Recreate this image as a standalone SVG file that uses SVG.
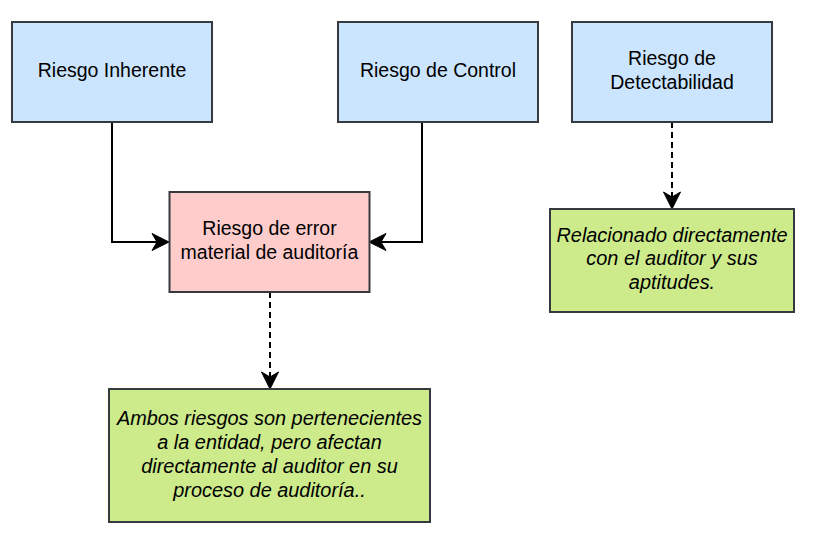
<svg xmlns="http://www.w3.org/2000/svg" width="814" height="536" viewBox="0 0 814 536">
<style>
.box{stroke:#36393d;stroke-width:2}
.blue{fill:#cce5ff}
.pink{fill:#ffcccc}
.green{fill:#cdeb8b}
.t{font-family:"Liberation Sans",Arial,sans-serif;font-size:19.5px;fill:#000;text-anchor:middle}
.i{font-style:italic;font-size:19.9px}
.c{fill:none;stroke:#000;stroke-width:2}
.d{stroke-dasharray:6 4}
</style>
<defs>
<marker id="arr" markerUnits="userSpaceOnUse" markerWidth="20" markerHeight="20" viewBox="0 0 20 20" refX="6" refY="9" orient="auto">
<path d="M18,9 L1,0.5 L6,9 L1,17.5 Z" fill="#000" stroke="#000" stroke-width="1"/>
</marker>
</defs>
<rect width="814" height="536" fill="#fff"/>
<g id="connectors">
<path class="c" d="M112,122 V242 H157" marker-end="url(#arr)"/>
<path class="c" d="M422,122 V242 H381" marker-end="url(#arr)"/>
<path class="c d" d="M270,292 V377" marker-end="url(#arr)"/>
<path class="c d" d="M672,122 V197" marker-end="url(#arr)"/>
</g>
<g id="inherente">
<rect class="box blue" x="12" y="22" width="200" height="100"/>
<text class="t" x="112" y="77">Riesgo Inherente</text>
</g>
<g id="control">
<rect class="box blue" x="338" y="22" width="200" height="100"/>
<text class="t" x="438" y="77">Riesgo de Control</text>
</g>
<g id="detectabilidad">
<rect class="box blue" x="572" y="22" width="200" height="100"/>
<text class="t" x="672" y="65">Riesgo de</text>
<text class="t" x="672" y="89">Detectabilidad</text>
</g>
<g id="error">
<rect class="box pink" x="169.5" y="192" width="200" height="100"/>
<text class="t" x="269.5" y="235">Riesgo de error</text>
<text class="t" x="269.5" y="259">material de auditoría</text>
</g>
<g id="nota-ambos">
<rect class="box green" x="109" y="389" width="321" height="133"/>
<text class="t i" x="269.5" y="425">Ambos riesgos son pertenecientes</text>
<text class="t i" x="269.5" y="449">a la entidad, pero afectan</text>
<text class="t i" x="269.5" y="473">directamente al auditor en su</text>
<text class="t i" x="269.5" y="497">proceso de auditoría..</text>
</g>
<g id="nota-detect">
<rect class="box green" x="550" y="209" width="244" height="103"/>
<text class="t i" x="672" y="242">Relacionado directamente</text>
<text class="t i" x="672" y="265">con el auditor y sus</text>
<text class="t i" x="672" y="289">aptitudes.</text>
</g>
</svg>
